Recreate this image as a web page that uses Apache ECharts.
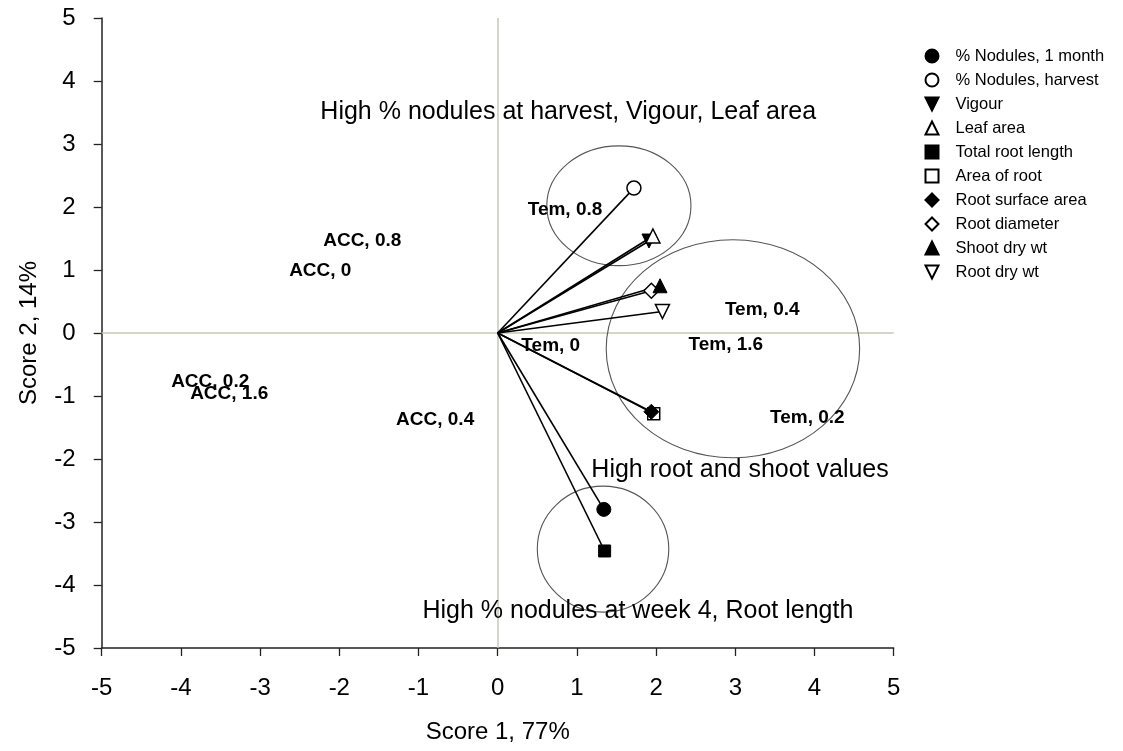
<!DOCTYPE html>
<html>
<head>
<meta charset="utf-8">
<style>
  html, body { margin: 0; padding: 0; background: #fff; }
  #chart { width: 1123px; height: 751px; }
</style>
<script src="https://cdn.jsdelivr.net/npm/echarts@6/dist/echarts.min.js"></script>
</head>
<body>
<div id="chart"></div>
<script>
// Variable loadings (arrows from the origin)
const variables = ['% Nodules, 1 month', '% Nodules, harvest', 'Vigour', 'Leaf area', 'Total root length',
  'Area of root', 'Root surface area', 'Root diameter', 'Shoot dry wt', 'Root dry wt'];
const loadX = [1.34, 1.72, 1.91, 1.96, 1.35, 1.97, 1.94, 1.94, 2.05, 2.08];
const loadY = [-2.80, 2.30, 1.46, 1.54, -3.46, -1.28, -1.25, 0.67, 0.75, 0.34];

const DOWN_TRIANGLE = 'path://M0,0L10,0L5,10Z';
const symbols = ['circle', 'circle', DOWN_TRIANGLE, 'triangle', 'rect', 'rect', 'diamond', 'diamond', 'triangle', DOWN_TRIANGLE];
const filled = [true, false, true, false, true, false, true, false, true, false];

// Treatment scores (text labels)
const treatments = ['Tem, 0.8', 'ACC, 0.8', 'ACC, 0', 'Tem, 0.4', 'Tem, 1.6', 'Tem, 0',
  'ACC, 0.2', 'ACC, 1.6', 'ACC, 0.4', 'Tem, 0.2'];
const scoreX = [0.85, -1.71, -2.24, 3.34, 2.88, 0.67, -3.63, -3.39, -0.79, 3.91];
const scoreY = [1.95, 1.46, 0.98, 0.37, -0.19, -0.21, -0.78, -0.97, -1.38, -1.35];

// Group ellipses: centre x, centre y, radius x, radius y
const ellipseCX = [1.53, 2.97, 1.33];
const ellipseCY = [2.02, -0.25, -3.43];
const ellipseRX = [0.91, 1.60, 0.83];
const ellipseRY = [0.95, 1.73, 1.00];

// Group captions
const captions = ['High % nodules at harvest, Vigour, Leaf area', 'High root and shoot values',
  'High % nodules at week 4, Root length'];
const captionX = [0.89, 3.06, 1.77];
const captionY = [3.51, -2.17, -4.41];

// Axis ticks
const axisMin = -5, axisMax = 5, axisStep = 1;

const FONT = '"Liberation Sans", Arial, sans-serif';

const series = [];

// Reference lines through the origin plus the arrows
series.push({
  name: 'arrows',
  type: 'lines',
  coordinateSystem: 'cartesian2d',
  silent: true,
  z: 2,
  lineStyle: { color: '#000', width: 1.6, opacity: 1 },
  data: variables.map((v, i) => ({ coords: [[0, 0], [loadX[i], loadY[i]]] })),
  markLine: {
    silent: true,
    symbol: 'none',
    label: { show: false },
    lineStyle: { color: '#c8c8b6', width: 1.5, type: 'solid' },
    data: [{ xAxis: 0 }, { yAxis: 0 }],
    z: 1
  }
});

// Ellipses
series.push({
  name: 'groups',
  type: 'custom',
  silent: true,
  z: 1,
  data: ellipseCX.map((c, i) => [c, ellipseCY[i], ellipseRX[i], ellipseRY[i]]),
  renderItem: function (params, api) {
    const c = api.coord([api.value(0), api.value(1)]);
    const s = api.size([api.value(2), api.value(3)]);
    return {
      type: 'ellipse',
      shape: { cx: c[0], cy: c[1], rx: s[0], ry: s[1] },
      style: { fill: 'none', stroke: '#555', lineWidth: 1.1 }
    };
  }
});

// Treatment labels
series.push({
  name: 'treatments',
  type: 'custom',
  silent: true,
  z: 5,
  data: treatments.map((t, i) => [scoreX[i], scoreY[i]]),
  renderItem: function (params, api) {
    const c = api.coord([api.value(0), api.value(1)]);
    return {
      type: 'text',
      x: c[0], y: c[1],
      style: {
        text: treatments[params.dataIndex],
        fill: '#000',
        font: 'bold 19px ' + FONT,
        align: 'center',
        verticalAlign: 'middle'
      }
    };
  }
});

// Captions
series.push({
  name: 'captions',
  type: 'custom',
  silent: true,
  z: 5,
  data: captions.map((t, i) => [captionX[i], captionY[i]]),
  renderItem: function (params, api) {
    const c = api.coord([api.value(0), api.value(1)]);
    return {
      type: 'text',
      x: c[0], y: c[1],
      style: {
        text: captions[params.dataIndex],
        fill: '#000',
        font: '25px ' + FONT,
        align: 'center',
        verticalAlign: 'middle'
      }
    };
  }
});

// Loading markers
variables.forEach((v, i) => {
  series.push({
    name: v,
    type: 'scatter',
    z: 3,
    symbol: symbols[i],
    symbolSize: symbols[i] === 'rect' ? 12 : (symbols[i] === 'diamond' ? 15 : 14),
    itemStyle: filled[i]
      ? { color: '#000', borderColor: '#000', borderWidth: 1, opacity: 1 }
      : { color: '#fff', borderColor: '#000', borderWidth: 1.5, opacity: 1 },
    data: [[loadX[i], loadY[i]]]
  });
});

const axisCommon = {
  type: 'value',
  min: axisMin,
  max: axisMax,
  interval: axisStep,
  splitLine: { show: false },
  axisLine: { show: true, onZero: false, lineStyle: { color: '#222', width: 1.5 } },
  axisTick: { show: true, inside: false, length: 8, lineStyle: { color: '#222', width: 1.3 } },
  nameLocation: 'middle',
  nameTextStyle: { fontFamily: FONT, fontSize: 24, color: '#000' },
  axisLabel: { fontFamily: FONT, fontSize: 24, color: '#000' }
};

const chart = echarts.init(document.getElementById('chart'), null, { renderer: 'canvas' });
chart.setOption({
  animation: false,
  backgroundColor: '#fff',
  grid: { left: 101.7, right: 229.3, top: 18, bottom: 103, containLabel: false },
  xAxis: Object.assign({}, axisCommon, {
    name: 'Score 1, 77%',
    nameGap: 72,
    axisLabel: Object.assign({}, axisCommon.axisLabel, { margin: 28 })
  }),
  yAxis: Object.assign({}, axisCommon, {
    name: 'Score 2, 14%',
    nameGap: 60,
    axisLabel: Object.assign({}, axisCommon.axisLabel, { margin: 26 })
  }),
  legend: {
    orient: 'vertical',
    left: 919.5,
    top: 42.5,
    itemWidth: 13,
    itemHeight: 13,
    itemGap: 7,
    selectedMode: false,
    data: variables,
    itemStyle: { opacity: 1 },
    textStyle: { fontFamily: FONT, fontSize: 16.5, color: '#000', lineHeight: 13, padding: [0, 0, 0, 12] }
  },
  series: series
});
</script>
</body>
</html>
